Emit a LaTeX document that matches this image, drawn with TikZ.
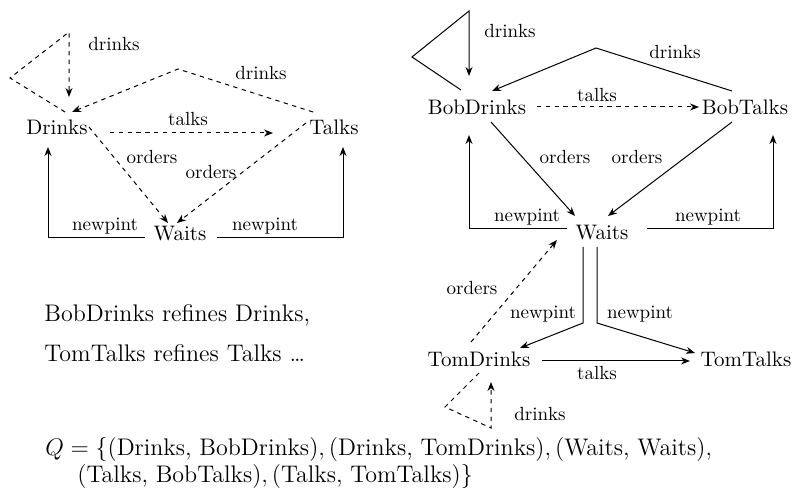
\documentclass[tikz,border=0pt]{standalone}
\usetikzlibrary{arrows.meta}
\begin{document}
\begin{tikzpicture}[x=0.5pt,y=-0.5pt,
  st/.style={font=\fontsize{10.5}{12}\selectfont,inner sep=0pt},
  lbl/.style={font=\fontsize{9.5}{11}\selectfont,inner sep=0pt},
  txt/.style={font=\fontsize{12}{14}\selectfont,inner sep=0pt,anchor=base west},
  edge/.style={line width=0.5pt,-{Stealth[length=4.5pt,width=3.5pt]}},
  dedge/.style={edge,dash pattern=on 2.2pt off 2.2pt}]
\useasboundingbox (0,0) rectangle (793,491);
% ---------- left graph
\node[st] (D) at (57,127) {Drinks};
\node[st] (T) at (334,127) {Talks};
\node[st] (W) at (180,234) {Waits};
\draw[dedge] ([shift={(8,-15)}]D.center) -- (10,78) -- (69,32) -- ([shift={(12,-30)}]D.center);
\node[lbl] (l1) at (114,44) {drinks};
\draw[dedge] ([shift={(-21,-15)}]T.center) -- (178,69) -- ([shift={(15,-15)}]D.center);
\node[lbl] (l2) at (261,73) {drinks};
\draw[dedge] ([shift={(53,6)}]D.center) -- ([shift={(-61,6)}]T.center);
\node[lbl] (l3) at (188,119) {talks};
\draw[dedge] ([shift={(32,0)}]D.center) -- ([shift={(-12,-11)}]W.center);
\node[lbl] (l4) at (152,157) {orders};
\draw[dedge] ([shift={(-28,-4)}]T.center) -- ([shift={(-3,-11)}]W.center);
\node[lbl] (l5) at (211,172) {orders};
\draw[edge] ([shift={(-35,4)}]W.center) -| ([shift={(-9,20)}]D.center);
\node[lbl] (l6) at (105,226) {newpint};
\draw[edge] ([shift={(37,4)}]W.center) -| ([shift={(9,20)}]T.center);
\node[lbl] (l7) at (265,226) {newpint};
% ---------- right graph
\node[st] (BD) at (477,107) {BobDrinks};
\node[st] (BT) at (745,107) {BobTalks};
\node[st] (W2) at (602,233) {Waits};
\node[st] (TD) at (479,359) {TomDrinks};
\node[st] (TT) at (746,359) {TomTalks};
\draw[edge] ([shift={(-16,-17)}]BD.center) -- (412,57) -- (469,11) -- ([shift={(-8,-31)}]BD.center);
\node[lbl] (r1) at (510,31) {drinks};
\draw[edge] ([shift={(-13,-16)}]BT.center) -- (596,48) -- ([shift={(15,-16)}]BD.center);
\node[lbl] (r2) at (675,52) {drinks};
\draw[dedge] ([shift={(60,0)}]BD.center) -- ([shift={(-46,0)}]BT.center);
\node[lbl] (r3) at (597,95) {talks};
\draw[edge] ([shift={(14,15)}]BD.center) -- ([shift={(-27,-17)}]W2.center);
\node[lbl] (r4) at (565,157) {orders};
\draw[edge] ([shift={(-13,15)}]BT.center) -- ([shift={(6,-17)}]W2.center);
\node[lbl] (r5) at (637,157) {orders};
\draw[edge] ([shift={(-35,-4)}]W2.center) -| ([shift={(-8,28)}]BD.center);
\node[lbl] (r6) at (527,217) {newpint};
\draw[edge] ([shift={(45,-4)}]W2.center) -| ([shift={(28,28)}]BT.center);
\node[lbl] (r7) at (708,217) {newpint};
\draw[dedge] ([shift={(-8,-17)}]TD.center) -- ([shift={(-45,7)}]W2.center);
\node[lbl] (r8) at (472,288) {orders};
\draw[edge] ([shift={(-19,14)}]W2.center) -- (583,323) -- ([shift={(41,-11)}]TD.center);
\node[lbl] (r9) at (543,314) {newpint};
\draw[edge] ([shift={(-5,14)}]W2.center) -- (597,323) -- ([shift={(-51,-6)}]TT.center);
\node[lbl] (r10) at (640,314) {newpint};
\draw[edge] ([shift={(63,2)}]TD.center) -- ([shift={(-56,2)}]TT.center);
\node[lbl] (r11) at (597,373) {talks};
\draw[dedge] ([shift={(0,14)}]TD.center) -- (445,407) -- (491,428) -- ([shift={(12,23)}]TD.center);
\node[lbl] (r12) at (540,414) {drinks};
% ---------- text
\node[txt] (t1) at (44,322) {BobDrinks refines Drinks,};
\node[txt] (t2) at (44,362) {TomTalks refines Talks \dots};
\node[txt] (q1) at (45,456) {$Q = \{(\mbox{Drinks, BobDrinks}), (\mbox{Drinks, TomDrinks}), (\mbox{Waits, Waits}),$};
\node[txt] (q2) at (77,483) {$(\mbox{Talks, BobTalks}), (\mbox{Talks, TomTalks})\}$};
\end{tikzpicture}
\end{document}
